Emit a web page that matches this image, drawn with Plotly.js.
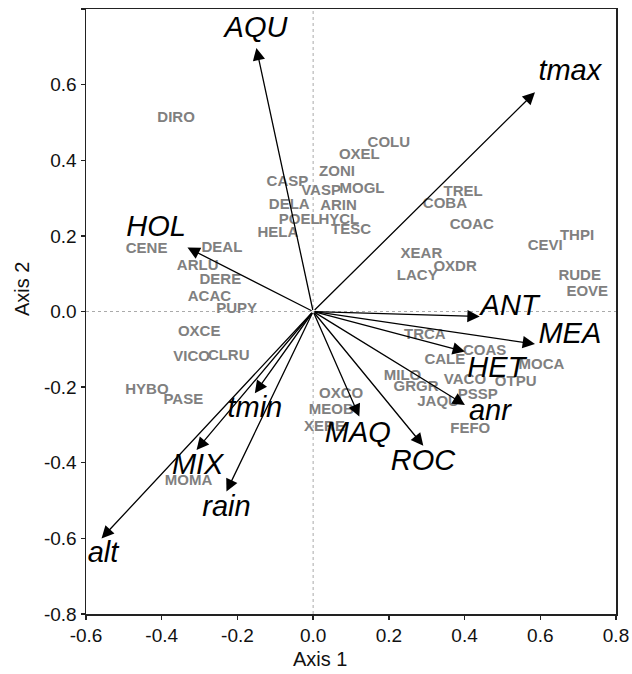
<!DOCTYPE html>
<html>
<head>
<meta charset="utf-8">
<script src="https://cdn.plot.ly/plotly-3.0.1.min.js"></script>
<style>html,body{margin:0;padding:0;background:#fff;}</style>
</head>
<body>
<div id="chart" style="width:632px;height:674px;"></div>
<script>
// Environmental vectors (arrow tips) and their label anchors
const vecNames = ['AQU','HOL','tmax','ANT','MEA','HET','anr','ROC','MAQ','tmin','MIX','rain','alt'];
const vecX = [-0.150, -0.332, 0.586, 0.440, 0.586, 0.401, 0.401, 0.291, 0.122, -0.154, -0.308, -0.229, -0.559];
const vecY = [0.697, 0.169, 0.580, -0.013, -0.086, -0.106, -0.247, -0.355, -0.278, -0.216, -0.366, -0.476, -0.600];
const vecLabelX = [-0.151, -0.415, 0.678, 0.519, 0.678, 0.484, 0.467, 0.290, 0.118, -0.154, -0.305, -0.229, -0.555];
const vecLabelY = [0.745, 0.219, 0.631, 0.010, -0.065, -0.154, -0.269, -0.400, -0.326, -0.260, -0.410, -0.522, -0.644];

// Species scores
const spNames = ['DIRO','COLU','OXEL','ZONI','CASP','VASP','MOGL','DELA','ARIN','POEL','HYCL','TESC','HELA',
  'TREL','COBA','COAC','THPI','CEVI','XEAR','OXDR','LACY','RUDE','EOVE',
  'CENE','DEAL','ARLU','DERE','ACAC','PUPY','OXCE','VICO','CLRU','HYBO','PASE','MOMA',
  'TRCA','COAS','CALE','MOCA','MILO','VACO','OTPU','GRGR','PSSP','OXCO','JAQU','MEOB','XERE','FEFO'];
const spX = [-0.362, 0.200, 0.122, 0.063, -0.068, 0.021, 0.129, -0.063, 0.067, -0.037, 0.068, 0.100, -0.093,
  0.396, 0.348, 0.419, 0.697, 0.613, 0.286, 0.375, 0.275, 0.704, 0.724,
  -0.440, -0.241, -0.305, -0.245, -0.274, -0.202, -0.301, -0.321, -0.223, -0.439, -0.343, -0.329,
  0.295, 0.453, 0.348, 0.603, 0.236, 0.401, 0.535, 0.272, 0.435, 0.074, 0.330, 0.048, 0.030, 0.415];
const spY = [0.511, 0.445, 0.413, 0.369, 0.343, 0.319, 0.324, 0.281, 0.279, 0.242, 0.242, 0.215, 0.206,
  0.316, 0.284, 0.228, 0.198, 0.173, 0.152, 0.117, 0.093, 0.094, 0.050,
  0.165, 0.166, 0.120, 0.082, 0.038, 0.005, -0.054, -0.122, -0.118, -0.207, -0.235, -0.450,
  -0.064, -0.104, -0.129, -0.143, -0.171, -0.183, -0.187, -0.201, -0.221, -0.220, -0.239, -0.261, -0.306, -0.312];

// Axis ticks
const xTickVals = [-0.6, -0.4, -0.2, 0.0, 0.2, 0.4, 0.6, 0.8];
const xTickText = ['-0.6', '-0.4', '-0.2', '0.0', '0.2', '0.4', '0.6', '0.8'];
const yTickVals = [-0.8, -0.6, -0.4, -0.2, 0.0, 0.2, 0.4, 0.6, 0.8];
const yTickText = ['-0.8', '-0.6', '-0.4', '-0.2', '0.0', '0.2', '0.4', '0.6', '0.8'];
const xTitle = 'Axis 1';
const yTitle = 'Axis 2';

const FONT = 'Arial, "Liberation Sans", Helvetica, sans-serif';

const traces = [
  {
    type: 'scatter', mode: 'text',
    x: spX, y: spY, text: spNames,
    textposition: 'middle center',
    textfont: {family: FONT, size: 15, color: '#808080', weight: 'bold'},
    hoverinfo: 'text', showlegend: false
  },
  {
    type: 'scatter', mode: 'text',
    x: vecLabelX, y: vecLabelY, text: vecNames,
    textposition: 'middle center',
    textfont: {family: FONT, size: 29, color: '#000', style: 'italic'},
    hoverinfo: 'text', showlegend: false
  }
];

const annotations = vecNames.map((n, i) => ({
  x: vecX[i], y: vecY[i], xref: 'x', yref: 'y',
  ax: 0, ay: 0, axref: 'x', ayref: 'y',
  text: '', showarrow: true,
  arrowhead: 2, arrowsize: 1.9, arrowwidth: 1.3, arrowcolor: '#000', standoff: 0
}));
annotations.push({
  text: xTitle, xref: 'paper', yref: 'paper', x: 0.4415, y: -0.0744,
  xanchor: 'center', yanchor: 'middle', showarrow: false,
  font: {family: FONT, size: 20, color: '#111'}
});
annotations.push({
  text: yTitle, xref: 'paper', yref: 'paper', x: -0.1208, y: 0.537,
  xanchor: 'center', yanchor: 'middle', showarrow: false, textangle: -90,
  font: {family: FONT, size: 20, color: '#111'}
});

const axisCommon = {
  showgrid: false, zeroline: false,
  showline: true, linecolor: '#222', linewidth: 1.5, mirror: true,
  ticks: 'outside', ticklen: 4, tickwidth: 1.3, tickcolor: '#222',
  tickfont: {family: FONT, size: 19, color: '#111'},
  tickmode: 'array', fixedrange: true
};

const layout = {
  width: 632, height: 674,
  margin: {l: 86, r: 16, t: 9, b: 60},
  paper_bgcolor: '#fff', plot_bgcolor: '#fff',
  xaxis: Object.assign({}, axisCommon, {range: [-0.6, 0.8], tickvals: xTickVals, ticktext: xTickText}),
  yaxis: Object.assign({}, axisCommon, {range: [-0.8, 0.8], tickvals: yTickVals, ticktext: yTickText}),
  shapes: [
    {type: 'line', xref: 'x', yref: 'paper', x0: 0, x1: 0, y0: 0, y1: 1,
     line: {color: '#aaa', width: 1, dash: 'dot'}, layer: 'below'},
    {type: 'line', xref: 'paper', yref: 'y', x0: 0, x1: 1, y0: 0, y1: 0,
     line: {color: '#aaa', width: 1, dash: 'dot'}, layer: 'below'}
  ],
  annotations: annotations,
  showlegend: false
};

Plotly.newPlot('chart', traces, layout, {displayModeBar: false, staticPlot: true});
</script>
</body>
</html>
